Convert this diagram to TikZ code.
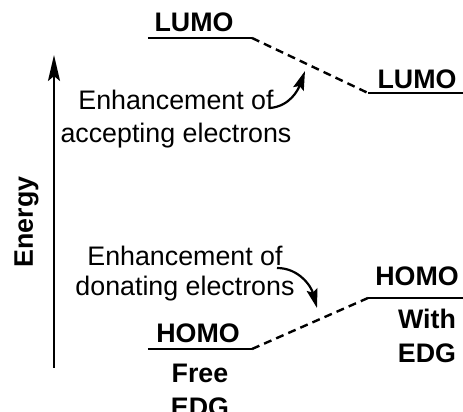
\documentclass[tikz,border=0pt]{standalone}
\usepackage{fontspec}
\setmainfont{Liberation Sans}
\usepackage{tikz}
\usetikzlibrary{arrows.meta,positioning,calc}

\tikzset{
    level/.style={line width=1.3pt, line cap=butt},
    shift line/.style={line width=1.2pt, dash pattern=on 4pt off 2.6pt},
    orbital/.style={font=\fontsize{13.4}{17}\selectfont\bfseries, anchor=base, inner sep=0pt, align=center},
    remark/.style={font=\fontsize{13.4}{#1}\selectfont, anchor=base, inner sep=0pt, align=center},
    bend arrow/.style={line width=1.1pt, -{Stealth[length=9.5pt,width=5.5pt,inset=1.5pt]}}
}

\begin{document}
\begin{tikzpicture}[x=5pt,y=5pt]
    \useasboundingbox (0,0) rectangle (46.3,41.2);

    % Energy axis
    \coordinate (axis0) at (5.4,4.4);
    \coordinate (axis1) at (5.4,35.7);
    \draw[line width=1.2pt, -{Stealth[length=13pt,width=6pt,inset=2.5pt]}] (axis0) -- (axis1);
    \node[font=\fontsize{13.4}{16}\selectfont\bfseries, rotate=90, anchor=base, inner sep=0pt] (energy) at (3.3,19.0) {Energy};

    % LUMO levels
    \coordinate (lumoA) at (14.8,37.4);
    \coordinate (lumoB) at (25.2,37.4);
    \coordinate (lumoC) at (36.8,31.9);
    \coordinate (lumoD) at (46.3,31.9);
    \draw[level] (lumoA) -- (lumoB);
    \draw[level] (lumoC) -- (lumoD);
    \draw[shift line] (lumoB) -- (lumoC);
    \node[orbital] (lumoFree) at (19.4,38.0) {LUMO};
    \node[orbital] (lumoEDG) at (41.7,32.3) {LUMO};

    % HOMO levels
    \coordinate (homoA) at (14.8,6.3);
    \coordinate (homoB) at (25.2,6.3);
    \coordinate (homoC) at (36.8,11.4);
    \coordinate (homoD) at (46.3,11.4);
    \draw[level] (homoA) -- (homoB);
    \draw[level] (homoC) -- (homoD);
    \draw[shift line] (homoB) -- (homoC);
    \node[orbital] (homoFree) at (19.8,6.9) {HOMO};
    \node[orbital] (homoEDG) at (41.7,12.6) {HOMO};

    % Columns (base = last line)
    \node[orbital] (free) at (20.0,-0.5) {Free\\EDG};
    \node[orbital] (with) at (42.7,4.9) {With\\EDG};

    % Remarks with bent arrows
    \node[remark=16.5] (accept) at (17.6,26.9) {Enhancement of\\accepting electrons};
    \coordinate (acceptTail) at (27.0,30.4);
    \coordinate (acceptTip) at (30.5,34.1);
    \draw[bend arrow] (acceptTail) to[out=5, in=-110] (acceptTip);

    \node[remark=15] (donate) at (18.5,11.6) {Enhancement of\\donating electrons};
    \coordinate (donateTail) at (27.7,14.4);
    \coordinate (donateTip) at (31.7,10.4);
    \draw[bend arrow] (donateTail) to[out=0, in=105] (donateTip);
\end{tikzpicture}
\end{document}
